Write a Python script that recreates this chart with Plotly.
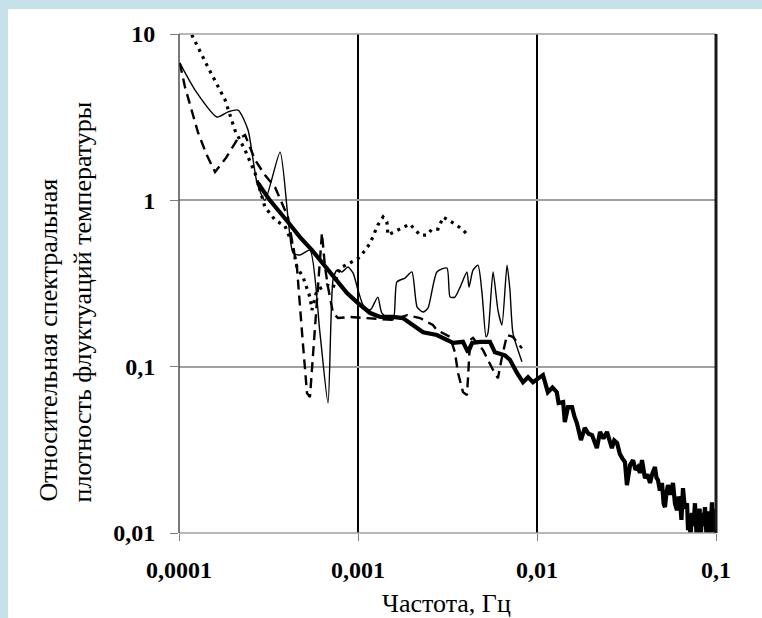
import plotly.graph_objects as go

# ---- data ----
x_tick_vals = [0.0001, 0.001, 0.01, 0.1]
x_tick_text = ["0,0001", "0,001", "0,01", "0,1"]
y_tick_vals = [0.01, 0.1, 1, 10]
y_tick_text = ["0,01", "0,1", "1", "10"]

thin_f = [1.01e-4, 1.23e-4, 1.63e-4, 1.88e-4, 2.14e-4, 2.43e-4, 2.73e-4, 3.02e-4, 3.67e-4,
          4.06e-4, 4.34e-4, 4.74e-4, 5.39e-4, 6.13e-4, 6.80e-4, 7.25e-4, 7.63e-4, 8.14e-4,
          8.79e-4, 9.38e-4, 1.0e-3, 1.07e-3, 1.17e-3, 1.29e-3, 1.36e-3, 1.57e-3, 1.65e-3,
          1.83e-3, 2.00e-3, 2.14e-3, 2.31e-3, 2.46e-3, 2.76e-3, 3.14e-3, 3.27e-3, 3.48e-3,
          3.72e-3, 4.06e-3, 4.17e-3, 4.39e-3, 4.68e-3, 4.93e-3, 5.19e-3, 5.32e-3, 5.68e-3,
          6.05e-3, 6.37e-3, 6.80e-3, 7.06e-3, 7.34e-3, 8.24e-3]
thin_v = [6.70, 4.60, 3.17, 3.40, 3.49, 2.65, 1.27, 1.00, 1.95,
          0.794, 0.482, 0.469, 0.502, 0.159, 0.0604, 0.332, 0.381, 0.371,
          0.397, 0.366, 0.289, 0.234, 0.219, 0.262, 0.210, 0.191, 0.323,
          0.341, 0.371, 0.228, 0.213, 0.225, 0.371, 0.392, 0.262, 0.262,
          0.301, 0.371, 0.301, 0.381, 0.408, 0.277, 0.151, 0.159, 0.371,
          0.219, 0.178, 0.408, 0.289, 0.159, 0.107]

dash_f = [1.01e-4, 1.08e-4, 1.28e-4, 1.43e-4, 1.59e-4, 1.83e-4, 2.11e-4, 2.34e-4, 2.66e-4,
          3.02e-4, 3.44e-4, 4.06e-4, 4.34e-4, 4.56e-4, 4.87e-4, 5.19e-4, 5.39e-4, 5.61e-4,
          5.90e-4, 6.29e-4, 6.54e-4, 6.80e-4, 7.25e-4, 7.73e-4, 9.02e-4, 1.57e-3, 1.88e-3,
          2.22e-3, 2.62e-3, 2.76e-3, 3.27e-3, 3.48e-3, 3.62e-3, 3.86e-3, 4.06e-3, 4.12e-3,
          4.23e-3, 4.39e-3, 4.99e-3, 5.68e-3, 6.05e-3, 6.37e-3, 6.80e-3, 7.34e-3, 8.24e-3]
dash_v = [6.70, 4.80, 2.54, 1.87, 1.48, 1.80, 2.31, 2.47, 1.75,
          1.42, 1.20, 0.794, 0.524, 0.397, 0.159, 0.0693, 0.0656, 0.126,
          0.251, 0.636, 0.397, 0.301, 0.210, 0.196, 0.199, 0.191, 0.204,
          0.196, 0.178, 0.166, 0.151, 0.122, 0.0916, 0.0703, 0.0675, 0.0865,
          0.145, 0.149, 0.126, 0.0955, 0.0853, 0.114, 0.155, 0.151, 0.129]

dot_f = [1.12e-4, 1.18e-4, 1.45e-4, 1.81e-4, 2.05e-4, 2.34e-4, 2.66e-4, 3.02e-4, 3.44e-4,
         3.91e-4, 4.28e-4, 4.56e-4, 4.93e-4, 5.39e-4, 5.53e-4, 5.90e-4, 6.71e-4, 7.25e-4,
         7.93e-4, 9.02e-4, 1.026e-3, 1.17e-3, 1.29e-3, 1.38e-3, 1.45e-3, 1.47e-3, 1.67e-3,
         1.95e-3, 2.22e-3, 2.43e-3, 2.59e-3, 2.80e-3, 2.99e-3, 3.27e-3, 3.48e-3, 3.81e-3,
         4.06e-3]
dot_v = [10.9, 9.86, 6.33, 4.01, 2.65, 2.00, 1.46, 0.912, 0.762,
         0.700, 0.553, 0.397, 0.346, 0.262, 0.219, 0.289, 0.310, 0.297,
         0.392, 0.420, 0.456, 0.553, 0.710, 0.794, 0.741, 0.618, 0.663,
         0.720, 0.618, 0.618, 0.672, 0.672, 0.794, 0.751, 0.720, 0.672,
         0.627]

thick_f = [2.76e-4, 3.22e-4, 4.06e-4, 4.74e-4, 5.53e-4, 6.98e-4, 8.68e-4, 1.0e-3, 1.17e-3,
           1.33e-3, 1.57e-3, 1.78e-3, 2.03e-3, 2.31e-3, 2.76e-3, 3.14e-3, 3.40e-3, 3.86e-3,
           4.12e-3, 4.34e-3, 4.81e-3, 5.46e-3, 5.82e-3, 6.62e-3, 7.06e-3, 7.73e-3, 8.35e-3,
           8.91e-3, 9.50e-3, 1.04e-2, 1.08e-2, 1.15e-2, 1.22e-2, 1.29e-2, 1.32e-2, 1.40e-2,
           1.43e-2, 1.49e-2, 1.57e-2, 1.62e-2, 1.67e-2, 1.76e-2, 1.85e-2, 1.94e-2, 2.03e-2,
           2.16e-2, 2.25e-2, 2.35e-2, 2.46e-2, 2.62e-2, 2.70e-2, 2.80e-2, 2.90e-2, 2.99e-2,
           3.10e-2, 3.18e-2, 3.25e-2, 3.31e-2, 3.44e-2, 3.55e-2, 3.66e-2, 3.76e-2, 3.86e-2,
           3.93e-2, 4.01e-2, 4.14e-2, 4.28e-2, 4.42e-2, 4.56e-2, 4.65e-2, 4.74e-2, 4.86e-2,
           4.99e-2, 5.10e-2, 5.19e-2, 5.29e-2, 5.39e-2, 5.57e-2, 5.75e-2, 5.90e-2, 6.05e-2,
           6.17e-2, 6.29e-2, 6.41e-2, 6.54e-2, 6.70e-2, 6.89e-2, 6.98e-2, 7.10e-2, 7.20e-2,
           7.34e-2, 7.48e-2, 7.63e-2, 7.78e-2, 7.93e-2, 8.10e-2, 8.22e-2, 8.35e-2, 8.50e-2,
           8.68e-2, 8.85e-2, 9.02e-2, 9.15e-2, 9.25e-2, 9.38e-2, 9.50e-2, 9.65e-2, 9.80e-2,
           9.87e-2]
thick_v = [1.27, 1.00, 0.741, 0.601, 0.502, 0.366, 0.277, 0.241, 0.210,
           0.199, 0.199, 0.196, 0.178, 0.161, 0.155, 0.145, 0.139, 0.141,
           0.122, 0.139, 0.141, 0.141, 0.122, 0.117, 0.110, 0.0916, 0.0807,
           0.0865, 0.0807, 0.0865, 0.0890, 0.0703, 0.0750, 0.0703, 0.0604, 0.0612,
           0.0465, 0.0571, 0.0571, 0.0500, 0.0458, 0.0362, 0.0428, 0.0395, 0.0388,
           0.0324, 0.0405, 0.0370, 0.0405, 0.0324, 0.0360, 0.0348, 0.0300, 0.0282,
           0.0267, 0.0194, 0.0240, 0.0256, 0.0274, 0.0240, 0.0249, 0.0230, 0.0274,
           0.0230, 0.0214, 0.0225, 0.0200, 0.0230, 0.0249, 0.0215, 0.0208, 0.0180,
           0.0200, 0.0150, 0.0143, 0.0175, 0.0194, 0.0170, 0.0200, 0.0150, 0.0137,
           0.0165, 0.0158, 0.0120, 0.0186, 0.0140, 0.0151, 0.0104, 0.0130, 0.0095,
           0.0132, 0.0110, 0.0151, 0.0098, 0.0101, 0.0140, 0.0095, 0.0132, 0.0110,
           0.0143, 0.0096, 0.0104, 0.0135, 0.0095, 0.0120, 0.0153, 0.0098, 0.0140,
           0.0101]

BLACK = "#000000"

fig = go.Figure()
fig.add_trace(go.Scatter(x=thin_f, y=thin_v, mode="lines",
                         line=dict(color=BLACK, width=1.4, shape="spline", smoothing=0.6)))
fig.add_trace(go.Scatter(x=dash_f, y=dash_v, mode="lines",
                         line=dict(color=BLACK, width=2.4, dash="10px,6px")))
fig.add_trace(go.Scatter(x=dot_f, y=dot_v, mode="lines",
                         line=dict(color=BLACK, width=3.2, dash="3px,5px")))
fig.add_trace(go.Scatter(x=thick_f, y=thick_v, mode="lines",
                         line=dict(color=BLACK, width=4.2)))

serif = "Liberation Serif, Times New Roman, serif"

fig.update_layout(
    width=762, height=618,
    margin=dict(l=179, r=46, t=34, b=85),
    paper_bgcolor="white", plot_bgcolor="white",
    showlegend=False,
    font=dict(family=serif, color="black"),
    xaxis=dict(type="log", range=[-4, -1], tickmode="array",
               tickvals=x_tick_vals, ticktext=x_tick_text,
               tickfont=dict(family=serif, size=24, weight="bold", color="black"),
               showgrid=True, gridcolor="black", gridwidth=1.6,
               ticks="outside", ticklen=7, tickcolor="#808080", tickwidth=1,
               ticklabelstandoff=8, zeroline=False, showline=False),
    yaxis=dict(type="log", range=[-2, 1], tickmode="array",
               tickvals=y_tick_vals, ticktext=y_tick_text,
               tickfont=dict(family=serif, size=24, weight="bold", color="black"),
               showgrid=True, gridcolor="#a0a0a0", gridwidth=1.5,
               ticks="outside", ticklen=8, tickcolor="#808080", tickwidth=1,
               ticklabelstandoff=10, zeroline=False, showline=False),
    shapes=[
        # light-blue frame band (top and left)
        dict(type="rect", xref="paper", yref="paper", x0=-0.34, x1=1.10,
             y0=1.0501, y1=1.08, fillcolor="#c6e1ea", line=dict(width=0), layer="above"),
        dict(type="rect", xref="paper", yref="paper", x0=-0.34, x1=-0.3184,
             y0=-0.2, y1=1.08, fillcolor="#c6e1ea", line=dict(width=0), layer="above"),
        # plot borders
        dict(type="line", xref="paper", yref="paper", x0=0, x1=1, y0=1, y1=1,
             line=dict(color="#a0a0a0", width=1.5)),
        dict(type="line", xref="paper", yref="paper", x0=0, x1=1, y0=0, y1=0,
             line=dict(color="#a0a0a0", width=1.5)),
        dict(type="line", xref="paper", yref="paper", x0=0, x1=0, y0=0, y1=1,
             line=dict(color="#333333", width=1.3)),
        dict(type="line", xref="paper", yref="paper", x0=1, x1=1, y0=0, y1=1,
             line=dict(color="#1a1a1a", width=3)),
    ],
    annotations=[
        dict(text="Частота, Гц", xref="paper", yref="paper", x=0.499, y=-0.1403,
             xanchor="center", yanchor="middle", showarrow=False,
             font=dict(family=serif, size=26, color="black")),
        dict(text="Относительная спектральная", xref="paper", yref="paper",
             x=-0.2439, y=0.0581, xanchor="center", yanchor="bottom",
             textangle=-90, showarrow=False,
             font=dict(family=serif, size=26, color="black")),
        dict(text="плотность флуктуаций температуры", xref="paper", yref="paper",
             x=-0.1788, y=0.0581, xanchor="center", yanchor="bottom",
             textangle=-90, showarrow=False,
             font=dict(family=serif, size=26, color="black")),
    ],
)

fig.write_html("out.html", config={"displayModeBar": False},
               post_script="document.body.style.margin='0';document.body.style.overflow='hidden';")
